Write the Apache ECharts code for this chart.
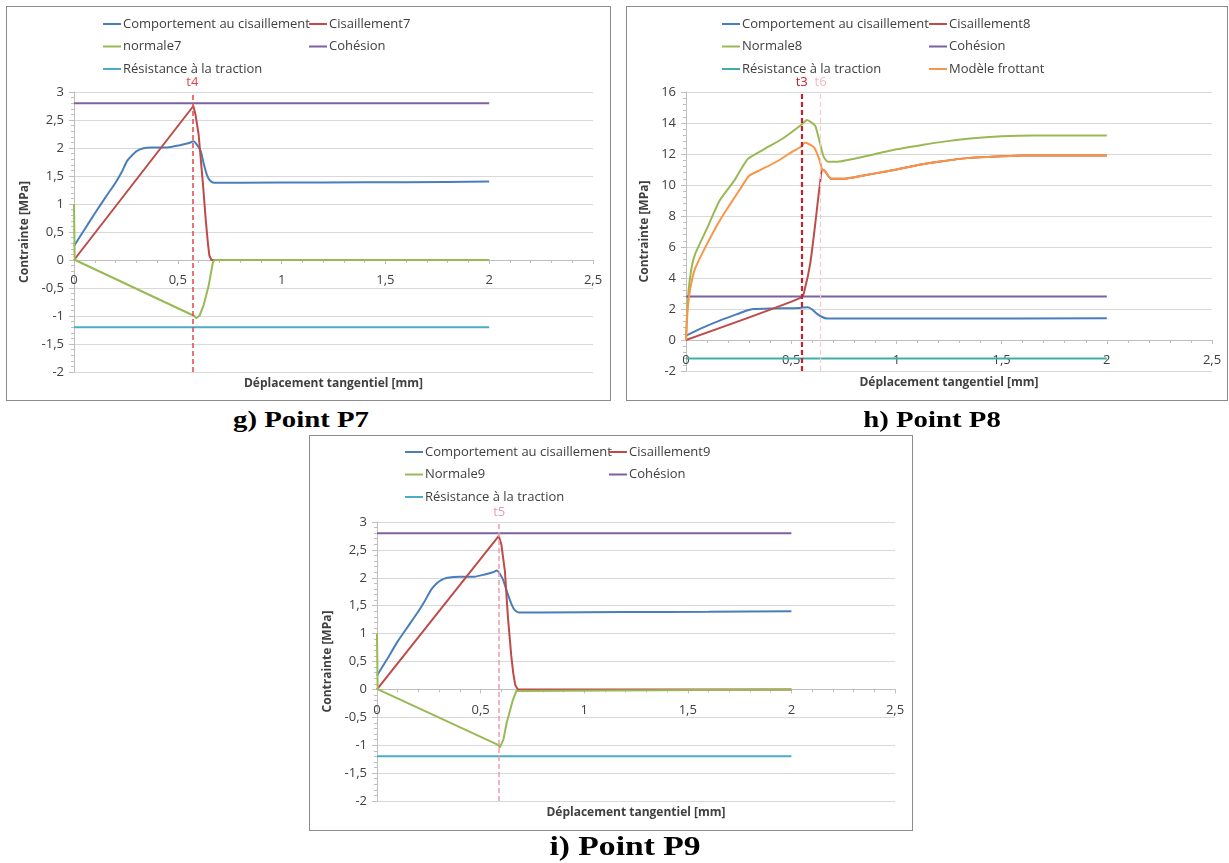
<!DOCTYPE html>
<html><head><meta charset="utf-8">
<script src="https://cdn.jsdelivr.net/npm/echarts@6/dist/echarts.min.js"></script>
<style>
body{margin:0;width:1229px;height:863px;background:#fff;position:relative;overflow:hidden;}
.box{position:absolute;border:1px solid #8c8c8c;box-sizing:border-box;pointer-events:none;}
.chart{position:absolute;}
.cap{position:absolute;width:300px;text-align:center;font-family:"Liberation Serif","Times New Roman",serif;font-weight:bold;color:#000;white-space:nowrap;transform:scaleX(1.2);transform-origin:center;line-height:1.1;}
</style></head>
<body>
<div id="cg" class="chart" style="left:6px;top:6px;width:605px;height:395px;"></div>
<div class="box" style="left:6px;top:6px;width:605px;height:395px;"></div>
<div id="ch" class="chart" style="left:626px;top:6px;width:602px;height:395px;"></div>
<div class="box" style="left:626px;top:6px;width:602px;height:395px;"></div>
<div id="ci" class="chart" style="left:309px;top:435px;width:604px;height:396px;"></div>
<div class="box" style="left:309px;top:435px;width:604px;height:396px;"></div>
<div class="cap" style="left:151px;top:406px;font-size:24px;">g) Point P7</div>
<div class="cap" style="left:782px;top:406px;font-size:24px;">h) Point P8</div>
<div class="cap" style="left:475px;top:831px;font-size:28px;">i) Point P9</div>
<script>
// ---------- DATA ----------
const xAxisRange = [0, 2.5, 0.5];
const yRangeP7 = [-2, 3, 0.5];
const yRangeP8 = [-2, 16, 2];
const yRangeP9 = [-2, 3, 0.5];

// P7
const p7Comportement = [[0,0.25],[0.05,0.54],[0.1,0.83],[0.15,1.11],[0.2,1.38],[0.23,1.57],[0.256,1.77],[0.28,1.87],[0.3,1.94],[0.33,1.99],[0.37,2.01],[0.45,2.01],[0.51,2.05],[0.555,2.09],[0.575,2.12],[0.59,2.07],[0.61,1.95],[0.625,1.72],[0.64,1.52],[0.655,1.42],[0.675,1.38],[0.8,1.38],[1.2,1.385],[1.6,1.39],[2,1.4]];
const p7Cisaillement = [[0,0],[0.575,2.75],[0.585,2.6],[0.6,2.25],[0.62,1.41],[0.635,0.7],[0.645,0.3],[0.652,0.08],[0.662,0],[2,0]];
const p7Normale = [[0,1.0],[0.003,0.05],[0.005,0],[0.58,-1.0],[0.588,-1.04],[0.595,-1.04],[0.605,-0.99],[0.625,-0.8],[0.648,-0.47],[0.668,-0.06],[0.675,0],[2,0]];
const p7Cohesion = [[0,2.8],[2,2.8]];
const p7Traction = [[0,-1.2],[2,-1.2]];
const p7Marker = 0.575;

// P8
const p8Comportement = [[0,0.28],[0.08,0.8],[0.16,1.25],[0.24,1.65],[0.29,1.9],[0.32,2.0],[0.4,2.04],[0.54,2.07],[0.58,2.12],[0.6,1.97],[0.62,1.72],[0.645,1.5],[0.67,1.38],[0.8,1.38],[1.2,1.39],[2,1.4]];
const p8Cisaillement = [[0,0],[0.55,2.75],[0.565,3.3],[0.59,4.9],[0.61,7.0],[0.627,9.0],[0.637,10.1],[0.647,11.0],[0.66,10.9],[0.69,10.4],[0.75,10.4],[0.8,10.5],[0.9,10.75],[1.0,11.0],[1.11,11.3],[1.2,11.5],[1.35,11.75],[1.5,11.85],[1.6,11.9],[2,11.9]];
const p8Normale = [[0,0],[0.008,2.5],[0.018,3.9],[0.03,4.9],[0.045,5.6],[0.1,7.2],[0.16,9.0],[0.23,10.3],[0.265,11.1],[0.295,11.7],[0.37,12.3],[0.46,13.0],[0.55,13.9],[0.575,14.2],[0.595,14.05],[0.615,13.8],[0.635,12.8],[0.655,11.8],[0.675,11.5],[0.72,11.5],[0.8,11.7],[0.9,12.0],[1.0,12.3],[1.11,12.55],[1.2,12.75],[1.35,13.0],[1.5,13.15],[1.65,13.2],[2,13.2]];
const p8Cohesion = [[0,2.8],[2,2.8]];
const p8Traction = [[0,-1.2],[2,-1.2]];
const p8Frottant = [[0,0],[0.008,2.0],[0.02,3.3],[0.043,4.6],[0.1,6.2],[0.16,7.7],[0.26,9.8],[0.3,10.6],[0.35,10.95],[0.43,11.5],[0.5,12.1],[0.55,12.5],[0.565,12.75],[0.59,12.6],[0.61,12.4],[0.635,11.6],[0.647,11.0],[0.66,10.9],[0.69,10.4],[0.75,10.4],[0.8,10.5],[0.9,10.75],[1.0,11.0],[1.11,11.3],[1.2,11.5],[1.35,11.75],[1.5,11.85],[1.6,11.9],[2,11.9]];
const p8MarkerT3 = 0.55;
const p8MarkerT6 = 0.64;

// P9
const p9Comportement = [[0,0.25],[0.05,0.55],[0.1,0.86],[0.15,1.13],[0.2,1.4],[0.23,1.58],[0.26,1.78],[0.285,1.89],[0.31,1.96],[0.34,2.0],[0.4,2.02],[0.47,2.02],[0.52,2.06],[0.56,2.1],[0.578,2.13],[0.595,2.06],[0.61,1.95],[0.63,1.72],[0.65,1.52],[0.665,1.42],[0.685,1.38],[0.8,1.38],[1.2,1.385],[1.6,1.39],[2,1.4]];
const p9Cisaillement = [[0,0],[0.588,2.75],[0.6,2.6],[0.617,2.13],[0.632,1.29],[0.648,0.6],[0.658,0.28],[0.667,0.08],[0.68,0],[2,0]];
const p9Normale = [[0,1.0],[0.003,0.05],[0.005,0],[0.587,-1.0],[0.593,-1.04],[0.6,-1.02],[0.61,-0.9],[0.625,-0.61],[0.655,-0.2],[0.672,-0.03],[0.68,0],[2,0]];
const p9Cohesion = [[0,2.8],[2,2.8]];
const p9Traction = [[0,-1.2],[2,-1.2]];
const p9Marker = 0.588;

// ---------- HELPERS ----------
const FONT = '"Open Sans", "Liberation Sans", sans-serif';
const TXT = '#404040';
const C = {blue:'#4A7EBB', red:'#BE4B48', green:'#98B954', purple:'#7D60A0', aqua:'#4BACC6', teal:'#42ADA8', orange:'#F79646'};
const comma = v => String(v).replace('.', ',');

function line(name, data, color, extra) {
  return Object.assign({name, type:'line', data, symbol:'none', showSymbol:false, smooth:0.2,
    lineStyle:{width:2, color}, itemStyle:{color}, animation:false, silent:true}, extra || {});
}
function vmark(x, color, label, width, labelColor) {
  return {xAxis:x, lineStyle:{color, type:[5,3], width}, label:{show:true, position:'end', formatter:label, color:labelColor||color, fontSize:13, fontFamily:FONT, distance:3}};
}
function legends(leftA, leftB, top, dataA, dataB) {
  const base = {orient:'vertical', top, itemGap:8.5, icon:'rect', itemWidth:18, itemHeight:2,
    textStyle:{fontSize:13, fontFamily:FONT, color:TXT, lineHeight:14, padding:[0,0,0,-3]}, selectedMode:false};
  return [Object.assign({left:leftA, data:dataA}, base), Object.assign({left:leftB, data:dataB}, base)];
}
function axes(grid, yr, xGap, yGap) {
  const axisCol = '#BFBFBF';
  // the x axis (line, ticks, labels) sits on y = 0, as in the original chart
  const zeroOffset = -grid.height * (0 - yr[0]) / (yr[1] - yr[0]);
  return {
    grid: Object.assign({containLabel:false, outerBoundsMode:'none'}, grid),
    xAxis: {type:'value', position:'bottom', offset:zeroOffset,
      min:xAxisRange[0], max:xAxisRange[1], interval:xAxisRange[2],
      name:'Déplacement tangentiel [mm]', nameLocation:'middle', nameGap:xGap,
      nameTextStyle:{fontFamily:FONT, fontWeight:'bold', fontSize:12, color:TXT},
      axisLine:{show:true, onZero:false, lineStyle:{color:axisCol, width:1}},
      axisTick:{show:true, length:4, lineStyle:{color:axisCol}},
      minorTick:{show:true, splitNumber:5, length:3, lineStyle:{color:axisCol}},
      axisLabel:{formatter:comma, fontSize:13, fontFamily:FONT, color:TXT, margin:14},
      splitLine:{show:false}},
    yAxis: {type:'value', min:yr[0], max:yr[1], interval:yr[2],
      name:'Contrainte [MPa]', nameLocation:'middle', nameGap:yGap,
      nameTextStyle:{fontFamily:FONT, fontWeight:'bold', fontSize:12, color:TXT},
      axisLine:{show:true, lineStyle:{color:axisCol, width:1}},
      axisTick:{show:true, length:5, lineStyle:{color:axisCol}},
      minorTick:{show:true, splitNumber:5, length:3, lineStyle:{color:axisCol}},
      axisLabel:{formatter:comma, fontSize:13, fontFamily:FONT, color:TXT, margin:10},
      splitLine:{show:true, lineStyle:{color:'#D9D9D9', width:1}}}
  };
}

// ---------- CHART g (P7) ----------
(function(){
  const ch = echarts.init(document.getElementById('cg'), null, {renderer:'canvas'});
  const o = axes({left:68, top:86, width:519, height:280}, yRangeP7, 118, 35);
  o.animation = false;
  o.legend = legends(92, 298, 6,
    ['Comportement au cisaillement','normale7','Résistance à la traction'],
    ['Cisaillement7','Cohésion']);
  o.series = [
    line('Comportement au cisaillement', p7Comportement, C.blue),
    line('Cisaillement7', p7Cisaillement, C.red, {smooth:false, markLine:{symbol:'none', silent:true, data:[vmark(p7Marker, '#E8444C', 't4', 1.5)]}}),
    line('normale7', p7Normale, C.green, {smooth:false}),
    line('Cohésion', p7Cohesion, C.purple, {smooth:false}),
    line('Résistance à la traction', p7Traction, C.aqua, {smooth:false})
  ];
  ch.setOption(o);
})();

// ---------- CHART h (P8) ----------
(function(){
  const ch = echarts.init(document.getElementById('ch'), null, {renderer:'canvas'});
  const o = axes({left:60, top:86, width:526, height:279}, yRangeP8, 37, 25);
  o.animation = false;
  o.legend = legends(91, 298, 6,
    ['Comportement au cisaillement','Normale8','Résistance à la traction'],
    ['Cisaillement8','Cohésion','Modèle frottant']);
  o.series = [
    line('Comportement au cisaillement', p8Comportement, C.blue),
    line('Cisaillement8', p8Cisaillement, C.red, {markLine:{symbol:'none', silent:true, data:[
      vmark(p8MarkerT3, '#C8202C', 't3', 2.2),
      vmark(p8MarkerT6, '#F7C6CF', 't6', 1.2, '#F2BAC4')]}}),
    line('Normale8', p8Normale, C.green),
    line('Cohésion', p8Cohesion, C.purple, {smooth:false}),
    line('Résistance à la traction', p8Traction, C.teal, {smooth:false}),
    line('Modèle frottant', p8Frottant, C.orange)
  ];
  ch.setOption(o);
})();

// ---------- CHART i (P9) ----------
(function(){
  const ch = echarts.init(document.getElementById('ci'), null, {renderer:'canvas'});
  const o = axes({left:68, top:87, width:518, height:279}, yRangeP9, 117, 35);
  o.animation = false;
  o.legend = legends(91, 295, 5,
    ['Comportement au cisaillement','Normale9','Résistance à la traction'],
    ['Cisaillement9','Cohésion']);
  o.series = [
    line('Comportement au cisaillement', p9Comportement, C.blue),
    line('Cisaillement9', p9Cisaillement, C.red, {smooth:false, markLine:{symbol:'none', silent:true, data:[vmark(p9Marker, '#F29AAE', 't5', 1.5)]}}),
    line('Normale9', p9Normale, C.green, {smooth:false}),
    line('Cohésion', p9Cohesion, C.purple, {smooth:false}),
    line('Résistance à la traction', p9Traction, C.aqua, {smooth:false})
  ];
  ch.setOption(o);
})();
</script>
</body></html>
